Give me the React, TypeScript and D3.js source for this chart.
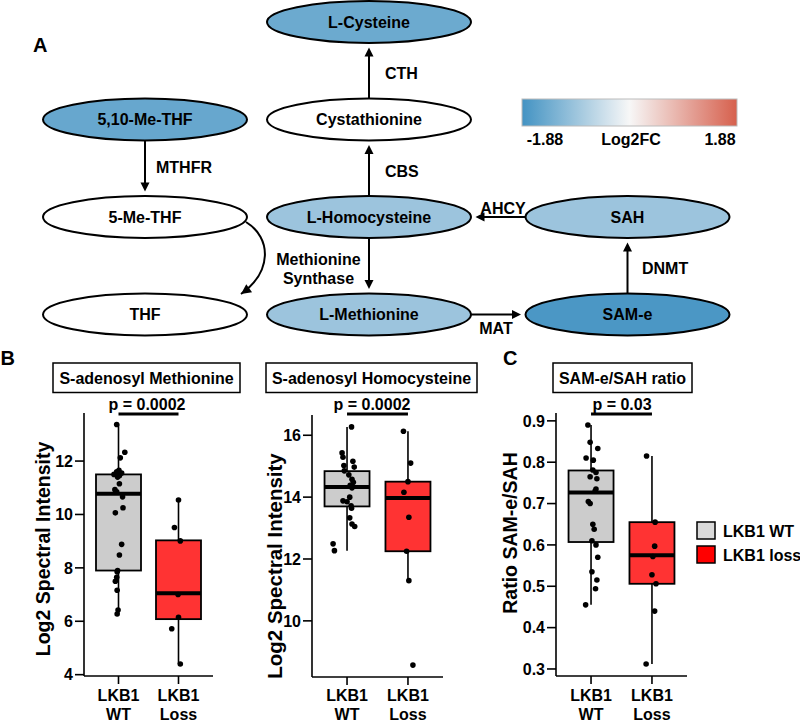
import React from 'react';
import * as d3 from 'd3';

// ---------------- Panel A: pathway data ----------------
const nodeNames = ['L-Cysteine', '5,10-Me-THF', 'Cystathionine', '5-Me-THF', 'L-Homocysteine', 'SAH', 'THF', 'L-Methionine', 'SAM-e'];
const nodeCol = [1, 0, 1, 0, 1, 2, 0, 1, 2];
const nodeRow = [0, 1, 1, 2, 2, 2, 3, 3, 3];
const nodeLog2FC: (number | null)[] = [-1.45, -1.5, null, null, -0.95, -0.95, null, -0.95, -1.8];
const fcLimit = 1.88;
const fcTicks = ['-1.88', 'Log2FC', '1.88'];

const edgeFrom = ['Cystathionine', '5,10-Me-THF', 'L-Homocysteine', 'L-Homocysteine', 'SAH', 'SAM-e', 'L-Methionine'];
const edgeTo = ['L-Cysteine', '5-Me-THF', 'Cystathionine', 'L-Methionine', 'L-Homocysteine', 'SAH', 'SAM-e'];
const edgeEnzyme = ['CTH', 'MTHFR', 'CBS', 'Methionine\nSynthase', 'AHCY', 'DNMT', 'MAT'];

// ---------------- Panels B/C: data ----------------
const groups = ['WT', 'Loss'];
const legendLabels = ['LKB1 WT', 'LKB1 loss'];

const samWT = [13.37, 12.33, 12.12, 11.65, 11.6, 11.55, 11.5, 11.45, 11.4, 11.15, 10.93, 10.85, 10.66, 10.25, 10.06, 8.88, 8.48, 7.9, 7.85, 7.65, 7.5, 7.16, 6.42, 6.27];
const samWTJit = [-0.04, 0.14, 0.04, 0.01, -0.04, 0.07, -0.1, 0.02, -0.02, 0.02, -0.08, -0.04, 0.09, 0.1, -0.07, 0.07, 0.02, -0.02, -0.03, -0.04, -0.07, -0.03, -0.01, -0.03];
const samLoss = [10.54, 9.51, 9.01, 7.0, 6.15, 5.72, 4.4];
const samLossJit = [0, -0.09, 0.04, -0.01, 0, -0.15, 0.04];
const samStatsWT = [6.27, 7.9, 10.78, 11.5, 13.37];
const samStatsLoss = [4.4, 6.08, 7.05, 9.03, 10.54];
const samTicks = [4, 6, 8, 10, 12];

const sahWT = [16.27, 15.43, 15.29, 15.16, 15.02, 14.97, 14.85, 14.72, 14.58, 14.48, 14.38, 14.3, 14.0, 13.88, 13.85, 13.72, 13.64, 13.33, 13.13, 13.05, 12.49, 12.27];
const sahWTJit = [0.1, -0.11, -0.09, 0.13, -0.07, 0.16, -0.06, 0.04, 0.11, 0.14, 0.07, 0.11, 0.06, -0.09, 0, 0.09, 0.1, 0.06, 0.11, 0.17, -0.31, -0.28];
const sahLoss = [16.13, 15.1, 14.5, 14.16, 13.35, 12.25, 11.3, 8.57];
const sahLossJit = [-0.1, 0.06, 0, -0.09, 0.02, -0.03, 0.02, 0.11];
const sahStatsWT = [12.27, 13.7, 14.33, 14.84, 16.27];
const sahStatsLoss = [11.3, 12.25, 13.97, 14.5, 16.13];
const sahTicks = [10, 12, 14, 16];

const ratioWT = [0.89, 0.848, 0.833, 0.81, 0.805, 0.781, 0.775, 0.765, 0.76, 0.735, 0.73, 0.705, 0.7, 0.65, 0.638, 0.61, 0.6, 0.57, 0.535, 0.515, 0.494, 0.455];
const ratioWTJit = [-0.07, -0.02, 0.15, -0.11, 0.05, 0.04, 0.11, -0.02, 0.13, 0.11, 0.09, -0.06, -0.02, 0.04, 0.07, 0.02, 0.11, 0.15, 0.02, 0.13, 0.1, -0.12];
const ratioLoss = [0.815, 0.655, 0.597, 0.572, 0.528, 0.506, 0.44, 0.312];
const ratioLossJit = [-0.12, 0.07, 0.06, 0.02, 0, 0.09, 0.06, -0.13];
const ratioStatsWT = [0.455, 0.607, 0.727, 0.78, 0.89];
const ratioStatsLoss = [0.312, 0.506, 0.575, 0.655, 0.815];
const ratioTicks = [0.3, 0.4, 0.5, 0.6, 0.7, 0.8, 0.9];

const FONT = "'Liberation Sans', Arial, Helvetica, sans-serif";

function Arrow({ x1, y1, x2, y2 }: { x1: number; y1: number; x2: number; y2: number }) {
  const a = Math.atan2(y2 - y1, x2 - x1);
  const L = 9, Wd = 4.5;
  const bx = x2 - L * Math.cos(a), by = y2 - L * Math.sin(a);
  const p1 = [bx + Wd * Math.sin(a), by - Wd * Math.cos(a)];
  const p2 = [bx - Wd * Math.sin(a), by + Wd * Math.cos(a)];
  return (
    <g>
      <line x1={x1} y1={y1} x2={bx + Math.cos(a)} y2={by + Math.sin(a)} stroke="#000" strokeWidth={2} />
      <path d={`M${x2},${y2}L${p1[0]},${p1[1]}L${p2[0]},${p2[1]}Z`} fill="#000" />
    </g>
  );
}

type PanelCfg = {
  x0: number; x1: number; yTop: number; yBot: number; domain: [number, number]; ticks: number[]; fmt: (v: number) => string;
  title: string; titleCx: number; titleW: number; p: string; pCx: number;
  ylab: string; ylabX: number; ylabY: number; ylabSize: number;
  wt: number[]; wtJit: number[]; loss: number[]; lossJit: number[]; statsWT: number[]; statsLoss: number[];
};

function BoxPanel({ c }: { c: PanelCfg }) {
  const x = d3.scalePoint<string>().domain(groups).range([c.x0, c.x1]).padding(0.575);
  const y = d3.scaleLinear().domain(c.domain).range([c.yBot, c.yTop]);
  const bw = 45;
  const fills = ['#cccccc', '#ff3333'];
  const series = [
    { g: groups[0], vals: c.wt, jit: c.wtJit, st: c.statsWT },
    { g: groups[1], vals: c.loss, jit: c.lossJit, st: c.statsLoss },
  ];
  return (
    <g fontFamily={FONT} fontWeight="bold">
      {/* title box */}
      <rect x={c.titleCx - c.titleW / 2} y={363} width={c.titleW} height={29.5} fill="#fff" stroke="#000" strokeWidth={1.5} />
      <text x={c.titleCx} y={383.5} textAnchor="middle" fontSize={16}>{c.title}</text>
      {/* p value */}
      <text x={c.pCx} y={410} textAnchor="middle" fontSize={16}>{c.p}</text>
      <line x1={x(groups[0])!} x2={x(groups[1])!} y1={414} y2={414} stroke="#000" strokeWidth={3} />
      {/* boxes */}
      {series.map((s, i) => {
        const cx = x(s.g)!;
        const [lo, q1, med, q3, hi] = s.st;
        return (
          <g key={i}>
            <line x1={cx} x2={cx} y1={y(hi)} y2={y(q3)} stroke="#000" strokeWidth={1.6} />
            <line x1={cx} x2={cx} y1={y(q1)} y2={y(lo)} stroke="#000" strokeWidth={1.6} />
            <rect x={cx - bw / 2} y={y(q3)} width={bw} height={y(q1) - y(q3)} fill={fills[i]} stroke="#000" strokeWidth={1.8} />
            <line x1={cx - bw / 2} x2={cx + bw / 2} y1={y(med)} y2={y(med)} stroke="#000" strokeWidth={4} />
          </g>
        );
      })}
      {series.map((s, i) =>
        s.vals.map((v, j) => (
          <circle key={`${i}-${j}`} cx={x(s.g)! + s.jit[j] * bw} cy={y(v)} r={2.8} fill="#000" />
        ))
      )}
      {/* axes */}
      <line x1={c.x0} x2={c.x0} y1={c.yTop} y2={c.yBot} stroke="#000" strokeWidth={1.6} />
      <line x1={c.x0} x2={c.x1} y1={c.yBot} y2={c.yBot} stroke="#000" strokeWidth={1.6} />
      {c.ticks.map((t) => (
        <g key={t}>
          <line x1={c.x0 - 9} x2={c.x0} y1={y(t)} y2={y(t)} stroke="#000" strokeWidth={1.6} />
          <text x={c.x0 - 11} y={y(t) + 5.7} textAnchor="end" fontSize={16}>{c.fmt(t)}</text>
        </g>
      ))}
      {groups.map((g) => (
        <g key={g}>
          <line x1={x(g)!} x2={x(g)!} y1={c.yBot} y2={c.yBot + 8} stroke="#000" strokeWidth={1.6} />
          <text x={x(g)!} y={700.5} textAnchor="middle" fontSize={16}>LKB1</text>
          <text x={x(g)!} y={719.5} textAnchor="middle" fontSize={16}>{g}</text>
        </g>
      ))}
      <text transform={`translate(${c.ylabX},${c.ylabY}) rotate(-90)`} textAnchor="middle" fontSize={c.ylabSize}>{c.ylab}</text>
    </g>
  );
}

export default function App() {
  const colX = d3.scaleOrdinal<number, number>().domain([0, 1, 2]).range([145, 369, 627.5]);
  const rowY = d3.scaleLinear().domain([0, 3]).range([22, 314.5]);
  const rx = 102, ry = 21, gap = 4.5;
  const fcColor = d3.scaleLinear<string>().domain([-fcLimit, 0, fcLimit]).range(['#4393c3', '#f7f7f7', '#d6604d']);
  const nodes = nodeNames.map((n, i) => ({ name: n, cx: colX(nodeCol[i]), cy: rowY(nodeRow[i]), fc: nodeLog2FC[i] }));
  const byName = new Map(nodes.map((n) => [n.name, n]));

  // label layout offsets for enzymes: [dx, dy, anchor]
  const enzOff: [number, number, string][] = [
    [16, 6, 'start'], [11, 7, 'start'], [16, 6.5, 'start'], [-50.5, 1, 'middle'], [2.5, -3, 'middle'], [14.5, 5.5, 'start'], [0, 19, 'middle'],
  ];

  const edges = edgeFrom.map((f, i) => {
    const a = byName.get(f)!, b = byName.get(edgeTo[i])!;
    let x1, y1, x2, y2;
    if (a.cx === b.cx) {
      x1 = x2 = a.cx;
      if (b.cy < a.cy) { y1 = a.cy - ry; y2 = b.cy + ry + gap; } else { y1 = a.cy + ry; y2 = b.cy - ry - gap; }
    } else {
      y1 = y2 = a.cy;
      if (b.cx < a.cx) { x1 = a.cx - rx; x2 = b.cx + rx + gap; } else { x1 = a.cx + rx; x2 = b.cx - rx - gap; }
    }
    return { x1, y1, x2, y2, label: edgeEnzyme[i], off: enzOff[i], vertical: a.cx === b.cx };
  });

  const fiveMe = byName.get('5-Me-THF')!, thf = byName.get('THF')!;
  const curve = d3.path();
  curve.moveTo(fiveMe.cx + 101, fiveMe.cy + 5);
  curve.bezierCurveTo(fiveMe.cx + 127, fiveMe.cy + 21, thf.cx + 127, thf.cy - 42.5, thf.cx + 96, thf.cy - 20.5);
  const tipX = thf.cx + 96, tipY = thf.cy - 20.5;
  const ang = Math.atan2(tipY - (thf.cy - 42.5), tipX - (thf.cx + 127));
  const hL = 10, hW = 5;
  const hb = [tipX - hL * Math.cos(ang), tipY - hL * Math.sin(ang)];
  const head = `M${tipX},${tipY}L${hb[0] + hW * Math.sin(ang)},${hb[1] - hW * Math.cos(ang)}L${hb[0] - hW * Math.sin(ang)},${hb[1] + hW * Math.cos(ang)}Z`;

  const cb = { x: 522, y: 99, w: 215, h: 27 };
  const cbScale = d3.scaleLinear().domain([-fcLimit, fcLimit]).range([cb.x, cb.x + cb.w]);
  const stops = d3.range(0, 1.0001, 0.1);

  const panels: PanelCfg[] = [
    {
      x0: 84, x1: 213, yTop: 413, yBot: 676, domain: [3.95, 13.8], ticks: samTicks, fmt: (v) => String(v),
      title: 'S-adenosyl Methionine', titleCx: 146.5, titleW: 187, p: 'p = 0.0002', pCx: 147,
      ylab: 'Log2 Spectral Intensity', ylabX: 50, ylabY: 549, ylabSize: 19.5,
      wt: samWT, wtJit: samWTJit, loss: samLoss, lossJit: samLossJit, statsWT: samStatsWT, statsLoss: samStatsLoss,
    },
    {
      x0: 312, x1: 443, yTop: 415, yBot: 677, domain: [8.185, 16.655], ticks: sahTicks, fmt: (v) => String(v),
      title: 'S-adenosyl Homocysteine', titleCx: 371.5, titleW: 211, p: 'p = 0.0002', pCx: 372,
      ylab: 'Log2 Spectral Intensity', ylabX: 282, ylabY: 566, ylabSize: 20.5,
      wt: sahWT, wtJit: sahWTJit, loss: sahLoss, lossJit: sahLossJit, statsWT: sahStatsWT, statsLoss: sahStatsLoss,
    },
    {
      x0: 556, x1: 687, yTop: 413, yBot: 676, domain: [0.283, 0.919], ticks: ratioTicks, fmt: (v) => d3.format('.1f')(v),
      title: 'SAM-e/SAH ratio', titleCx: 622.5, titleW: 139, p: 'p = 0.03', pCx: 622,
      ylab: 'Ratio SAM-e/SAH', ylabX: 517, ylabY: 533, ylabSize: 19.5,
      wt: ratioWT, wtJit: ratioWTJit, loss: ratioLoss, lossJit: ratioLossJit, statsWT: ratioStatsWT, statsLoss: ratioStatsLoss,
    },
  ];

  return (
    <div style={{ position: 'absolute', left: 0, top: 0, width: 800, height: 721, background: '#fff' }}>
      <svg width={800} height={721} viewBox="0 0 800 721" style={{ display: 'block' }}>
        <defs>
          <linearGradient id="fcgrad" x1="0" x2="1" y1="0" y2="0">
            {stops.map((s) => (
              <stop key={s} offset={s} stopColor={fcColor(-fcLimit + s * 2 * fcLimit)} />
            ))}
          </linearGradient>
        </defs>
        <rect x={0} y={0} width={800} height={721} fill="#fff" />
        <g fontFamily={FONT} fontWeight="bold">
          <text x={33} y={52} fontSize={20}>A</text>
          <text x={0.5} y={365} fontSize={20}>B</text>
          <text x={503} y={365} fontSize={20}>C</text>

          {/* edges */}
          {edges.map((e, i) => (
            <g key={i}>
              <Arrow x1={e.x1} y1={e.y1} x2={e.x2} y2={e.y2} />
              {e.label.split('\n').map((ln, k) => {
                const mx = (e.x1 + e.x2) / 2, my = (e.y1 + e.y2) / 2;
                const tx = e.vertical ? e.x1 + e.off[0] : mx + e.off[0];
                const ty = e.vertical ? my + e.off[1] + k * 19 : e.y1 + e.off[1];
                return (
                  <text key={k} x={tx} y={ty} fontSize={16} textAnchor={e.off[2] as any}>{ln}</text>
                );
              })}
            </g>
          ))}
          <path d={curve.toString()} fill="none" stroke="#000" strokeWidth={2} />
          <path d={head} fill="#000" />

          {/* nodes */}
          {nodes.map((n) => (
            <g key={n.name}>
              <ellipse cx={n.cx} cy={n.cy} rx={rx} ry={ry} fill={n.fc == null ? '#ffffff' : fcColor(n.fc)} stroke="#000" strokeWidth={2} />
              <text x={n.cx} y={n.cy + 5.7} textAnchor="middle" fontSize={16}>{n.name}</text>
            </g>
          ))}

          {/* color bar */}
          <rect x={cb.x} y={cb.y} width={cb.w} height={cb.h} fill="url(#fcgrad)" stroke="#bbbbbb" strokeWidth={1} />
          <text x={cbScale(-fcLimit) + 23} y={145} textAnchor="middle" fontSize={16}>{fcTicks[0]}</text>
          <text x={cbScale(0) + 1.5} y={145} textAnchor="middle" fontSize={16}>{fcTicks[1]}</text>
          <text x={cbScale(fcLimit) - 17} y={145} textAnchor="middle" fontSize={16}>{fcTicks[2]}</text>
        </g>

        {panels.map((p, i) => <BoxPanel key={i} c={p} />)}

        {/* legend */}
        <g fontFamily={FONT} fontWeight="bold">
          {legendLabels.map((l, i) => (
            <g key={l}>
              <rect x={697} y={522 + i * 24} width={18} height={17} fill={i === 0 ? '#d9d9d9' : '#ff0000'} stroke="#000" strokeWidth={1.5} />
              <text x={723} y={537 + i * 24} fontSize={16}>{l}</text>
            </g>
          ))}
        </g>
      </svg>
    </div>
  );
}
